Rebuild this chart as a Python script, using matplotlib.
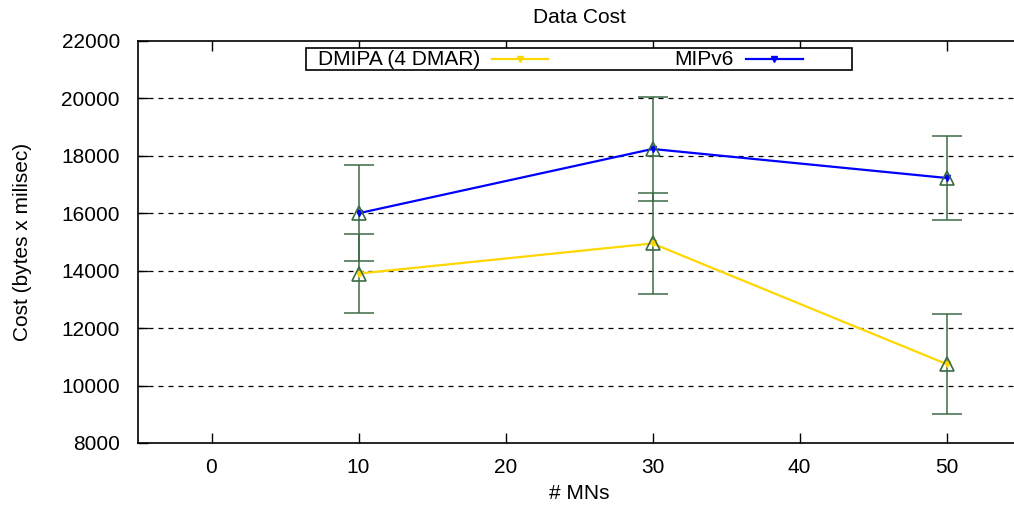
import matplotlib
matplotlib.use("Agg")
import matplotlib.pyplot as plt
from matplotlib.lines import Line2D
from matplotlib.patches import Rectangle

plt.rcParams['font.family'] = ['Liberation Sans', 'DejaVu Sans']

# Number of mobile nodes
mns = [10, 30, 50]

# DMIPA (4 DMAR) mean cost and error
dmipa_cost = [13900, 14950, 10750]
dmipa_err = [1370, 1760, 1740]

# MIPv6 mean cost and error
mipv6_cost = [16000, 18240, 17230]
mipv6_err = [1670, 1810, 1460]

x_ticks = [0, 10, 20, 30, 40, 50]
y_ticks = [8000, 10000, 12000, 14000, 16000, 18000, 20000, 22000]

YELLOW = '#ffd700'
BLUE = '#0000ff'
ERR_GREEN = '#3a6b45'
FS = 15

W, H = 1014, 512
fig = plt.figure(figsize=(W / 100, H / 100), dpi=100)
ax = fig.add_axes([138 / W, (H - 443) / H, (1020 - 138) / W, 402 / H])

ax.set_xlim(-5, 55)
ax.set_ylim(8000, 22000)
ax.set_xticks(x_ticks)
ax.set_yticks(y_ticks)
ax.tick_params(axis='both', direction='in', length=7, width=1, labelsize=FS,
               top=True, right=False)
ax.tick_params(axis='x', pad=11)
ax.tick_params(axis='y', pad=13)
for s in ax.spines.values():
    s.set_linewidth(1.2)

# horizontal dashed grid
for yv in y_ticks[1:-1]:
    ax.axhline(yv, color='black', lw=0.9, ls=(0, (4, 4)), zorder=1)

for cost, err, color in [(dmipa_cost, dmipa_err, YELLOW), (mipv6_cost, mipv6_err, BLUE)]:
    ax.plot(mns, cost, color=color, lw=1.6, zorder=3)
    ax.errorbar(mns, cost, yerr=err, fmt='none', ecolor=ERR_GREEN, elinewidth=1.1,
                capsize=11, capthick=1.1, zorder=4)
    ax.plot(mns, cost, ls='none', marker='v', ms=5, color=color, zorder=5)
    ax.plot(mns, cost, ls='none', marker='^', ms=10, mfc='none', mec=ERR_GREEN,
            mew=1.2, zorder=6)

ax.set_title('Data Cost', fontsize=FS, pad=13)
ax.set_xlabel('# MNs', fontsize=FS, labelpad=5)
ax.set_ylabel('Cost (bytes x milisec)', fontsize=FS, labelpad=21)

# key box in the gnuplot style
def fx(px):
    return px / W

def fy(py):
    return 1 - py / H

fig.add_artist(Rectangle((fx(306), fy(70)), fx(852) - fx(306), fy(48) - fy(70),
                         transform=fig.transFigure, facecolor='white',
                         edgecolor='black', lw=1.2, zorder=10))
fig.text(fx(318), fy(59.5), 'DMIPA (4 DMAR)', fontsize=FS, ha='left', va='center', zorder=11)
fig.add_artist(Line2D([fx(492), fx(548)], [fy(59), fy(59)], transform=fig.transFigure,
                      color=YELLOW, lw=1.6, zorder=11))
fig.add_artist(Line2D([fx(520)], [fy(59)], transform=fig.transFigure, marker='v', ms=5,
                      color=YELLOW, zorder=12))
fig.text(fx(734), fy(59.5), 'MIPv6', fontsize=FS, ha='right', va='center', zorder=11)
fig.add_artist(Line2D([fx(746), fx(803)], [fy(59), fy(59)], transform=fig.transFigure,
                      color=BLUE, lw=1.6, zorder=11))
fig.add_artist(Line2D([fx(774)], [fy(59)], transform=fig.transFigure, marker='v', ms=5,
                      color=BLUE, zorder=12))

fig.savefig('out.png', dpi=100)
